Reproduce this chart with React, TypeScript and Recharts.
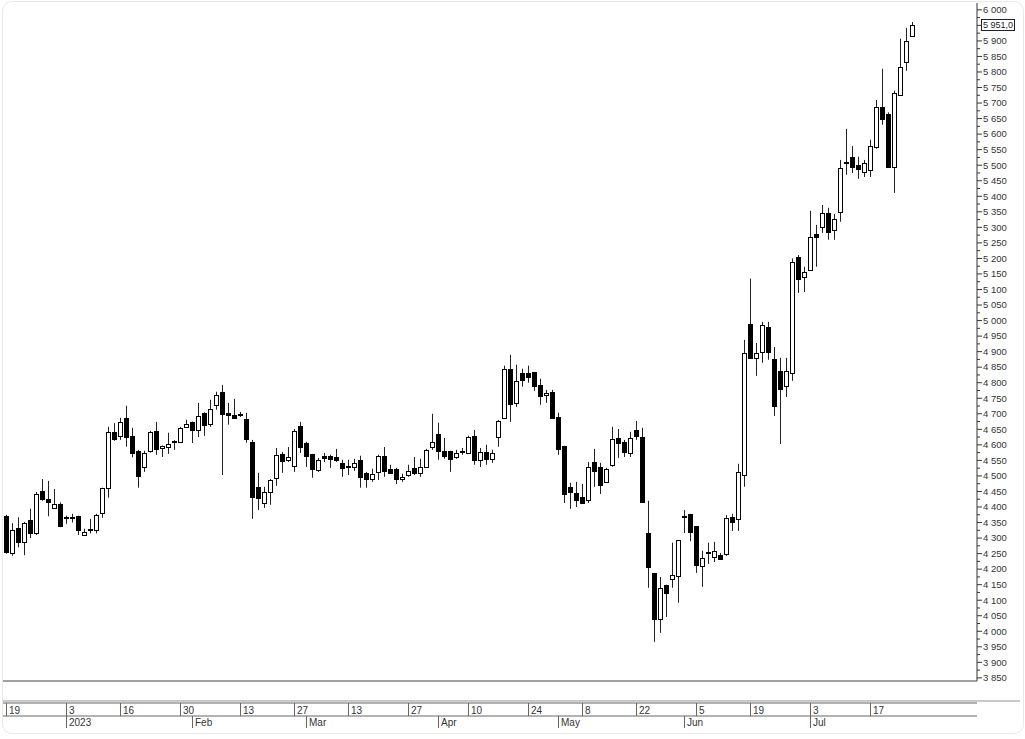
import React from 'react'
import { ComposedChart, Bar, XAxis, YAxis, ReferenceLine } from 'recharts'

// trading days per month (Moscow exchange calendar)
const dec22 = [19, 20, 21, 22, 23, 26, 27, 28, 29, 30]
const jan23 = [3, 4, 5, 6, 9, 10, 11, 12, 13, 16, 17, 18, 19, 20, 23, 24, 25, 26, 27, 30, 31]
const feb23 = [1, 2, 3, 6, 7, 8, 9, 10, 13, 14, 15, 16, 17, 20, 21, 22, 24, 27, 28]
const mar23 = [1, 2, 3, 6, 7, 9, 10, 13, 14, 15, 16, 17, 20, 21, 22, 23, 24, 27, 28, 29, 30, 31]
const apr23 = [3, 4, 5, 6, 7, 10, 11, 12, 13, 14, 17, 18, 19, 20, 21, 24, 25, 26, 27, 28]
const may23 = [2, 3, 4, 5, 8, 10, 11, 12, 15, 16, 17, 18, 19, 22, 23, 24, 25, 26, 29, 30, 31]
const jun23 = [1, 2, 5, 6, 7, 8, 9, 13, 14, 15, 16, 19, 20, 21, 22, 23, 26, 27, 28, 29, 30]
const jul23 = [3, 4, 5, 6, 7, 10, 11, 12, 13, 14, 17, 18, 19, 20, 21, 24, 25, 26]

// [open, high, low, close]
const ohlc: number[][] = [
  [4370, 4375, 4250, 4256], [4252, 4348, 4243, 4326], [4332, 4367, 4270, 4287], [4287, 4352, 4245, 4348],
  [4358, 4394, 4300, 4316], [4316, 4448, 4310, 4442], [4450, 4490, 4420, 4426], [4426, 4484, 4370, 4415],
  [4397, 4458, 4394, 4410], [4410, 4415, 4335, 4340], [4368, 4372, 4346, 4363], [4365, 4378, 4350, 4368],
  [4370, 4372, 4310, 4326], [4310, 4330, 4308, 4320], [4330, 4362, 4315, 4325], [4326, 4378, 4315, 4374],
  [4380, 4462, 4365, 4460], [4461, 4658, 4430, 4642], [4642, 4670, 4613, 4620], [4630, 4687, 4616, 4675],
  [4687, 4726, 4594, 4626], [4630, 4655, 4560, 4574], [4580, 4584, 4462, 4500], [4529, 4581, 4513, 4574],
  [4580, 4645, 4575, 4640], [4645, 4674, 4568, 4587], [4590, 4598, 4561, 4597], [4594, 4639, 4571, 4603],
  [4610, 4615, 4584, 4613], [4610, 4658, 4606, 4655], [4658, 4681, 4655, 4668], [4674, 4675, 4606, 4648],
  [4648, 4735, 4625, 4693], [4703, 4705, 4629, 4665], [4668, 4745, 4658, 4716], [4727, 4771, 4713, 4761],
  [4771, 4793, 4503, 4700], [4703, 4735, 4665, 4697], [4697, 4748, 4685, 4687], [4698, 4706, 4690, 4695],
  [4684, 4703, 4607, 4620], [4610, 4616, 4362, 4432], [4465, 4510, 4390, 4429], [4413, 4465, 4397, 4448],
  [4448, 4490, 4407, 4487], [4494, 4590, 4468, 4568], [4571, 4577, 4510, 4548], [4552, 4593, 4545, 4561],
  [4532, 4651, 4513, 4645], [4661, 4674, 4574, 4594], [4606, 4610, 4529, 4565], [4571, 4571, 4494, 4523],
  [4519, 4558, 4513, 4552], [4565, 4574, 4545, 4558], [4565, 4568, 4526, 4555], [4561, 4587, 4545, 4552],
  [4542, 4552, 4497, 4526], [4532, 4552, 4503, 4529], [4529, 4555, 4516, 4542], [4552, 4565, 4462, 4497],
  [4510, 4513, 4462, 4490], [4490, 4523, 4481, 4507], [4513, 4568, 4487, 4565], [4565, 4593, 4497, 4516],
  [4523, 4536, 4507, 4510], [4523, 4526, 4474, 4490], [4490, 4507, 4481, 4497], [4503, 4536, 4497, 4516],
  [4526, 4561, 4503, 4510], [4510, 4555, 4497, 4529], [4529, 4587, 4526, 4584], [4594, 4700, 4584, 4610],
  [4635, 4671, 4552, 4581], [4581, 4622, 4555, 4565], [4581, 4581, 4513, 4555], [4561, 4584, 4555, 4574],
  [4577, 4590, 4568, 4579], [4574, 4629, 4571, 4626], [4629, 4648, 4536, 4552], [4552, 4590, 4529, 4577],
  [4577, 4600, 4536, 4555], [4555, 4584, 4542, 4574], [4626, 4680, 4594, 4677], [4687, 4855, 4684, 4845],
  [4845, 4890, 4674, 4732], [4735, 4858, 4722, 4806], [4832, 4845, 4787, 4810], [4832, 4855, 4800, 4819],
  [4835, 4835, 4774, 4790], [4793, 4813, 4729, 4758], [4761, 4777, 4735, 4768], [4771, 4777, 4684, 4687],
  [4690, 4703, 4568, 4587], [4597, 4597, 4413, 4442], [4465, 4478, 4394, 4448], [4445, 4481, 4400, 4423],
  [4432, 4474, 4410, 4413], [4423, 4545, 4413, 4529], [4545, 4587, 4465, 4516], [4529, 4542, 4442, 4471],
  [4481, 4526, 4478, 4523], [4536, 4658, 4529, 4619], [4622, 4651, 4558, 4606], [4610, 4616, 4561, 4577],
  [4574, 4642, 4561, 4622], [4648, 4677, 4616, 4629], [4626, 4655, 4413, 4417], [4317, 4420, 4140, 4207],
  [4188, 4188, 3966, 4040], [4040, 4175, 3995, 4140], [4150, 4150, 4046, 4123], [4169, 4285, 4140, 4182],
  [4178, 4294, 4092, 4294], [4370, 4390, 4316, 4368], [4378, 4378, 4290, 4320], [4339, 4339, 4188, 4214],
  [4210, 4259, 4143, 4236], [4252, 4285, 4217, 4254], [4239, 4288, 4223, 4259], [4246, 4252, 4230, 4233],
  [4249, 4374, 4243, 4365], [4368, 4378, 4323, 4352], [4362, 4539, 4323, 4513], [4503, 4938, 4465, 4896],
  [4990, 5135, 4877, 4880], [4880, 4928, 4822, 4896], [4900, 4996, 4864, 4986], [4980, 4996, 4874, 4900],
  [4877, 4915, 4693, 4726], [4838, 4880, 4603, 4780], [4790, 4880, 4754, 4838], [4832, 5200, 4806, 5190],
  [5205, 5211, 5089, 5134], [5140, 5173, 5092, 5157], [5163, 5353, 5160, 5269], [5279, 5308, 5173, 5269],
  [5302, 5372, 5282, 5347], [5347, 5363, 5260, 5285], [5292, 5343, 5260, 5327], [5350, 5517, 5318, 5491],
  [5508, 5617, 5469, 5511], [5527, 5562, 5475, 5495], [5501, 5527, 5456, 5488], [5479, 5517, 5462, 5508],
  [5485, 5582, 5462, 5562], [5559, 5710, 5553, 5688], [5688, 5810, 5630, 5649], [5665, 5670, 5495, 5495],
  [5495, 5740, 5411, 5733], [5727, 5907, 5726, 5817], [5833, 5942, 5804, 5900], [5916, 5961, 5913, 5951],
]

const dayTicks = [
  '2022-12-19', '2023-01-03', '2023-01-16', '2023-01-30', '2023-02-13', '2023-02-27', '2023-03-13', '2023-03-27',
  '2023-04-10', '2023-04-24', '2023-05-08', '2023-05-22', '2023-06-05', '2023-06-19', '2023-07-03', '2023-07-17',
]
const monthTicks = ['2023-01-03', '2023-02-01', '2023-03-01', '2023-04-03', '2023-05-02', '2023-06-01', '2023-07-03']
const monthLabels = ['2023', 'Feb', 'Mar', 'Apr', 'May', 'Jun', 'Jul']

const yTicks = Array.from({ length: 87 }, (_, i) => 3850 + i * 25)
const lastClose = 5951

const pad = (n: number) => (n < 10 ? '0' + n : '' + n)
const month = (y: number, m: number, days: number[]) => days.map((d) => `${y}-${pad(m)}-${pad(d)}`)
const dates = [
  ...month(2022, 12, dec22), ...month(2023, 1, jan23), ...month(2023, 2, feb23), ...month(2023, 3, mar23),
  ...month(2023, 4, apr23), ...month(2023, 5, may23), ...month(2023, 6, jun23), ...month(2023, 7, jul23),
]

const data = dates.map((date, i) => ({
  date,
  open: ohlc[i][0],
  high: ohlc[i][1],
  low: ohlc[i][2],
  close: ohlc[i][3],
}))

const FONT = '"Liberation Sans", Arial, sans-serif'

const fmtPrice = (v: number) => {
  const th = Math.floor(v / 1000)
  const rest = Math.round(v % 1000)
  return `${th} ${String(rest).padStart(3, '0')}`
}

function Candle(props: any) {
  const { x, y, width, height, payload } = props
  const { open, close, high, low } = payload
  const top = Math.min(y, y + height)
  const h = Math.abs(height)
  const cx = Math.round(x + width / 2) + 0.5
  const span = high - low
  const toY = (v: number) => (span === 0 ? top : top + ((high - v) / span) * h)
  const b1 = Math.round(Math.min(toY(open), toY(close))) + 0.5
  const b2 = Math.round(Math.max(toY(open), toY(close))) + 0.5
  const up = close >= open
  return (
    <g>
      <line x1={cx} x2={cx} y1={top} y2={top + h} stroke="#222" />
      {b2 - b1 < 1 ? (
        <line x1={cx - 2.5} x2={cx + 2.5} y1={b1} y2={b1} stroke="#000" />
      ) : (
        <rect x={cx - 2} y={b1} width={4} height={b2 - b1} fill={up ? '#fff' : '#000'} stroke="#000" />
      )}
    </g>
  )
}

function YTick(props: any) {
  const { x, y, payload } = props
  const v = payload.value
  const major = v % 50 === 0
  return (
    <g>
      <line x1={x} x2={x + (major ? 5 : 3)} y1={y} y2={y} stroke="#333" />
      {major && Math.abs(v - lastClose) > 15 && (
        <text x={x + 6} y={y} dy="0.35em" fontSize={9.5} fill="#333" fontFamily={FONT}>
          {fmtPrice(v)}
        </text>
      )}
    </g>
  )
}

function DayTick(props: any) {
  const { x, y, payload } = props
  const day = Number(String(payload.value).slice(8))
  return (
    <g>
      <line x1={x + 0.5} x2={x + 0.5} y1={y} y2={y + 13} stroke="#666" />
      <text x={x + 3} y={y + 10.5} fontSize={10} fill="#333" fontFamily={FONT}>
        {day}
      </text>
    </g>
  )
}

function MonthTick(props: any) {
  const { x, y, payload } = props
  const label = monthLabels[monthTicks.indexOf(payload.value)]
  return (
    <g>
      <line x1={x + 0.5} x2={x + 0.5} y1={y} y2={y + 12} stroke="#666" />
      <text x={x + 3} y={y + 10} fontSize={10} fill="#333" fontFamily={FONT}>
        {label}
      </text>
    </g>
  )
}

function PriceLabel(props: any) {
  const vb = props.viewBox
  const bx = vb.x + vb.width + 4.5
  const by = Math.round(vb.y) - 5.5
  return (
    <g>
      <rect x={bx} y={by} width={33} height={11} fill="#fff" stroke="#222" />
      <text x={bx + 16.5} y={by + 5.5} dy="0.35em" textAnchor="middle" fontSize={9} fill="#222" fontFamily={FONT}>
        5 951,0
      </text>
    </g>
  )
}

const xPad = { left: 0, right: 62 }

export default function App() {
  return (
    <div style={{ position: 'absolute', left: 0, top: 0, width: 1025, height: 739, background: '#fff' }}>
      <div
        style={{
          position: 'absolute',
          left: 2,
          top: 1,
          width: 1020,
          height: 731,
          border: '1px solid #e8e8e8',
          borderRadius: 10,
        }}
      />
      <div style={{ position: 'absolute', left: 3, top: 700, width: 1017, height: 2, background: '#c9c9c9' }} />
      <div style={{ position: 'absolute', left: 0, top: 0 }}>
        <ComposedChart width={1025} height={739} data={data} margin={{ top: 3, right: 2, left: 3, bottom: 11 }}>
          <XAxis
            dataKey="date"
            height={22}
            tick={false}
            tickLine={false}
            axisLine={{ stroke: '#444' }}
            padding={xPad}
          />
          <XAxis
            xAxisId="days"
            dataKey="date"
            height={13}
            ticks={dayTicks}
            interval={0}
            tickSize={0}
            tickMargin={0}
            tickLine={false}
            axisLine={{ stroke: '#666' }}
            tick={(p: any) => <DayTick {...p} />}
            padding={xPad}
          />
          <XAxis
            xAxisId="months"
            dataKey="date"
            height={12}
            ticks={monthTicks}
            interval={0}
            tickSize={0}
            tickMargin={0}
            tickLine={false}
            axisLine={{ stroke: '#666' }}
            tick={(p: any) => <MonthTick {...p} />}
            padding={xPad}
          />
          <YAxis
            orientation="right"
            width={46}
            type="number"
            domain={[3840, 6022]}
            allowDataOverflow
            ticks={yTicks}
            interval={0}
            tickSize={0}
            tickMargin={0}
            tickLine={false}
            axisLine={{ stroke: '#333' }}
            tick={(p: any) => <YTick {...p} />}
          />
          <Bar
            dataKey={(d: any) => [d.low, d.high]}
            barSize={4}
            shape={(p: any) => <Candle {...p} />}
            isAnimationActive={false}
          />
          <ReferenceLine y={lastClose} stroke="none" label={(p: any) => <PriceLabel {...p} />} />
        </ComposedChart>
      </div>
    </div>
  )
}
